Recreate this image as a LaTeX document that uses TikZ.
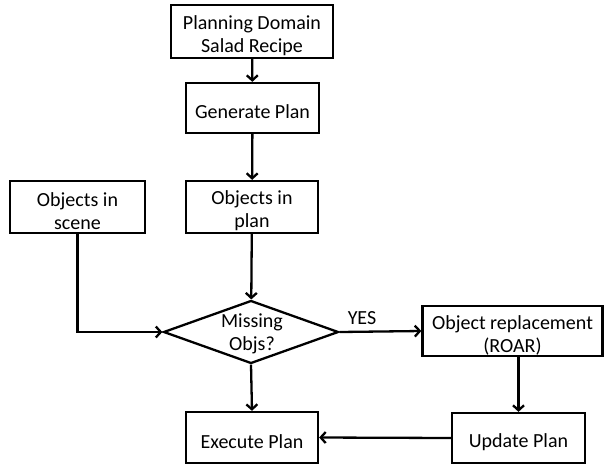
\documentclass[tikz,border=0pt]{standalone}
\usepackage{fontspec}
\setmainfont{Carlito}
\usetikzlibrary{arrows.meta,shapes.geometric}
\begin{document}
\begin{tikzpicture}[x=1pt,y=-1pt,
  box/.style={draw,line width=2.3pt,rectangle,inner sep=0pt},
  lbl/.style={font=\fontsize{20}{23}\selectfont,inner sep=0pt,align=center},
  txt/.style={label={[lbl,yshift=-4pt]center:{#1}}},
  arr/.style={line width=2.3pt,-{Straight Barb[length=5pt,width=11pt,line width=2.3pt]}}]
\useasboundingbox (0,0) rectangle (604,466);
\node[box,minimum width=162pt,minimum height=53pt,txt={Planning Domain\\Salad Recipe}] (dom) at (252,31.5) {};
\node[box,minimum width=133pt,minimum height=50pt,txt={Generate Plan}] (gen) at (252.5,108) {};
\node[box,minimum width=132pt,minimum height=52pt,txt={Objects in\\plan}] (oip) at (252,207) {};
\node[box,minimum width=135pt,minimum height=52pt,txt={Objects in\\scene}] (ois) at (77.5,207) {};
\node[draw,line width=2.3pt,diamond,inner sep=0pt,minimum width=175pt,minimum height=63pt] (dia) at (251,332) {};
\node[lbl] (diat) at (252,334) {Missing\\Objs?};
\node[box,minimum width=180pt,minimum height=50pt,txt={Object replacement\\(ROAR)}] (rep) at (512.5,331) {};
\node[box,minimum width=133pt,minimum height=50pt,txt={Update Plan}] (upd) at (518.5,438) {};
\node[box,minimum width=132pt,minimum height=51pt,txt={Execute Plan}] (exe) at (252,437.5) {};
\node[lbl] (yes) at (362,318) {YES};
\draw[arr] (dom) -- (gen);
\draw[arr] (gen) -- (oip);
\draw[arr] (oip) -- (dia);
\draw[arr] (ois.south) |- (dia.west);
\draw[arr] (dia.east) -- (rep.west);
\draw[arr] (rep.south -| upd.north) -- (upd.north);
\draw[arr] (upd.west) -- (exe.east);
\draw[arr] (dia.south) -- (exe.north);
\end{tikzpicture}
\end{document}
